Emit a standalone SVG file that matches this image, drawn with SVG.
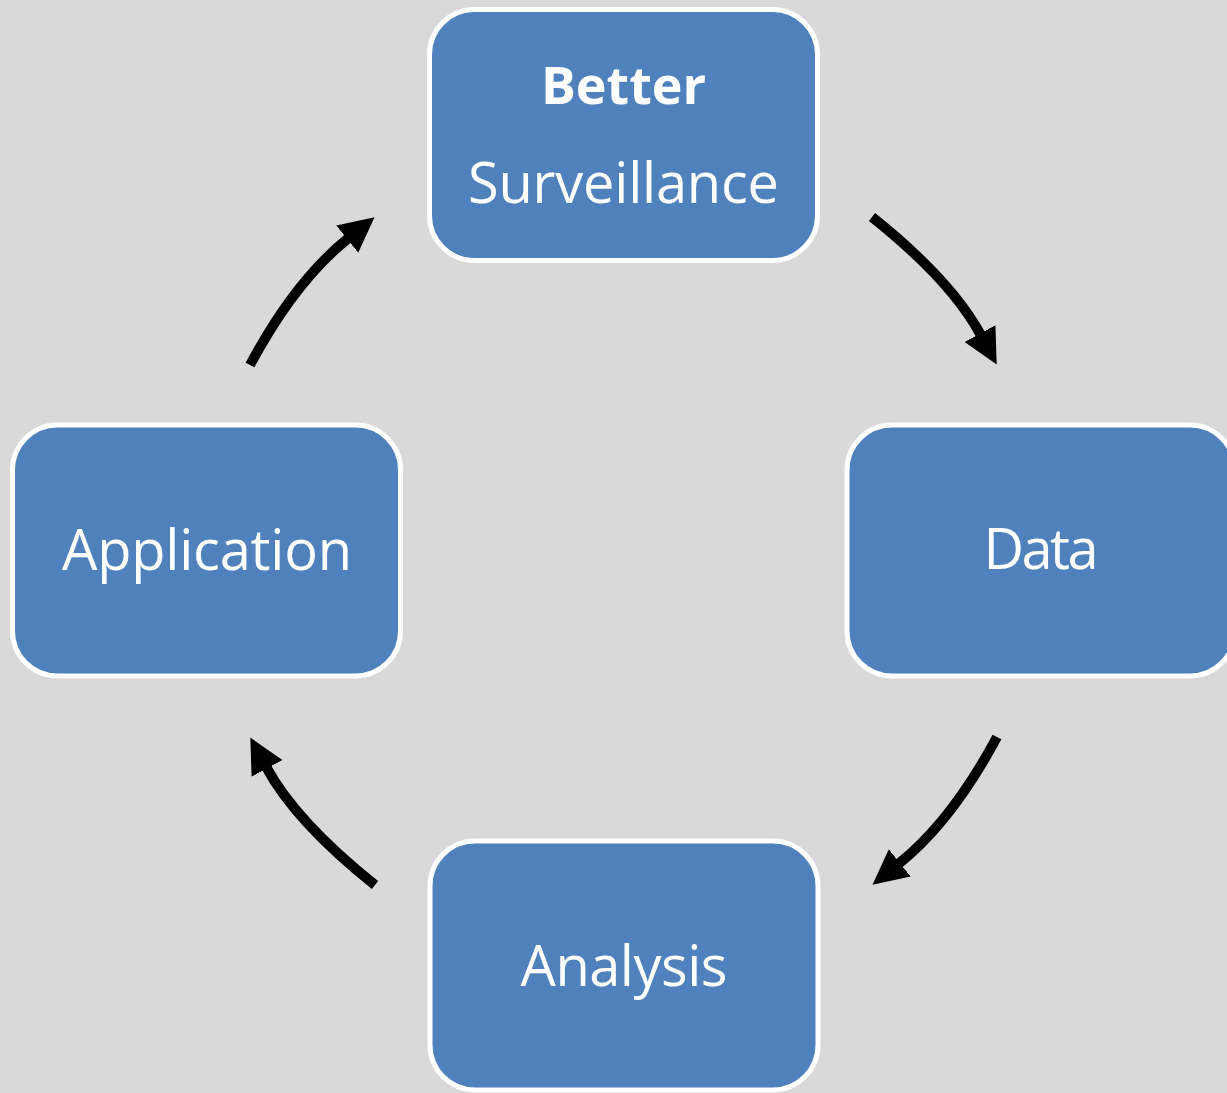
<svg xmlns="http://www.w3.org/2000/svg" width="1227" height="1093" viewBox="0 0 1227 1093">
<style>
.box{fill:#4F81BD;stroke:#FFFFFF;stroke-width:5}
.lbl{font-family:"Open Sans","Liberation Sans",sans-serif;font-size:56px;fill:#FFFFFF;text-anchor:middle}
.b{font-weight:bold;font-size:52px}
.arr{fill:none;stroke:#000000;stroke-width:10;marker-end:url(#head)}
</style>
<defs>
<marker id="head" markerUnits="userSpaceOnUse" viewBox="0 -18 36 36" markerWidth="36" markerHeight="36" refX="1" refY="0" orient="auto">
<polygon points="0,-17.5 35,0 0,17.5" fill="#000000"/>
</marker>
</defs>
<rect width="1227" height="1093" fill="#D9D9D9"/>
<g id="node-surveillance">
<rect class="box" x="429.5" y="9.5" width="388" height="251" rx="45"/>
<text class="lbl b" x="623.5" y="104">Better</text>
<text class="lbl" x="623.5" y="203" textLength="311" lengthAdjust="spacing">Surveillance</text>
</g>
<g id="node-data">
<rect class="box" x="847" y="425" width="388" height="251" rx="45"/>
<text class="lbl" x="1041" y="569" textLength="115" lengthAdjust="spacing">Data</text>
</g>
<g id="node-analysis">
<rect class="box" x="430" y="841" width="388" height="249" rx="45"/>
<text class="lbl" x="624" y="986" textLength="207" lengthAdjust="spacing">Analysis</text>
</g>
<g id="node-application">
<rect class="box" x="12.5" y="425" width="388" height="251" rx="45"/>
<text class="lbl" x="207" y="570" textLength="290" lengthAdjust="spacing">Application</text>
</g>
<g id="connectors">
<path class="arr" d="M872,217 Q951,280 980.5,334.5"/>
<path class="arr" d="M997,737 Q952,821 899,863.5"/>
<path class="arr" d="M375,885 Q296,822 266.5,767.5"/>
<path class="arr" d="M250,365 Q295,281 348,238.5"/>
</g>
</svg>
